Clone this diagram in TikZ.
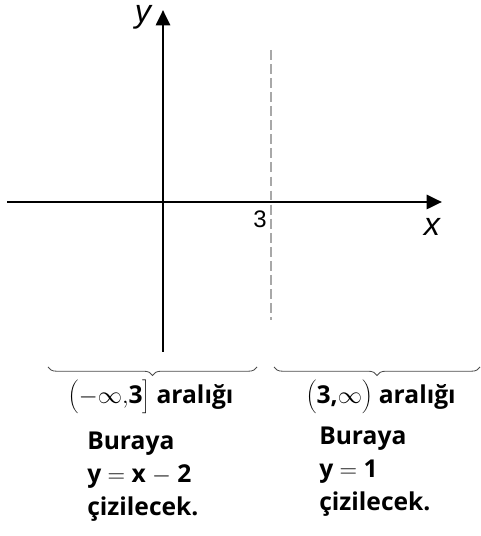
\documentclass[tikz,border=0pt]{standalone}
\usepackage{fontspec}
\setmainfont{Open Sans}
\newfontfamily\axisfont{Liberation Sans}
\usetikzlibrary{arrows.meta,decorations.pathreplacing}
\definecolor{AxisBlack}{HTML}{000000}
\definecolor{DashGray}{HTML}{A8A8A8}
\tikzset{
  axis/.style={AxisBlack, line width=2.1pt, -{Triangle[length=11pt,width=10pt]}},
  axislabel/.style={anchor=base, inner sep=0pt, font=\axisfont\itshape\fontsize{23}{23}\selectfont},
  brace/.style={decorate, decoration={brace, mirror, amplitude=6pt}, line width=0.6pt, black!70},
  interval/.style={font=\fontsize{17.5}{20}\selectfont\bfseries},
  note/.style={align=left, anchor=west, inner sep=0pt, font=\fontsize{17.5}{23.5}\selectfont\bfseries}
}

\begin{document}
\begin{tikzpicture}[x=0.025cm, y=0.025cm]
\useasboundingbox (0,0) rectangle (480,536);

% Axes
\coordinate (xl) at (7,334);
\coordinate (xr) at (442,334);
\coordinate (yb) at (163,184);
\coordinate (yt) at (163,526);
\draw[axis] (xl) -- (xr);
\draw[axis] (yb) -- (yt);
\node[axislabel] (ylab) at (143,513) {y};
\node[axislabel] (xlab) at (432,300) {x};
\node[anchor=base, inner sep=0pt, font=\axisfont\fontsize{17}{17}\selectfont] (three) at (260,308) {3};

% Vertical dashed line at x = 3
\coordinate (dt) at (271,486);
\coordinate (db) at (271,216);
\draw[DashGray, line width=1.5pt, dash pattern=on 7pt off 3pt] (dt) -- (db);

% Braces under the two intervals
\coordinate (la) at (48,169);
\coordinate (lb) at (257,169);
\coordinate (ra) at (274,169);
\coordinate (rb) at (480,169);
\draw[brace] (la) -- (lb);
\draw[brace] (ra) -- (rb);

% Interval labels
\node[interval] (lint) at (151,139) {$\biggl(-\infty,$3$\biggr]$ aralığı};
\node[interval] (rint) at (381,139) {$\biggl($3,$\infty\biggr)$ aralığı};

% What is drawn on each interval
\node[note] (lnote) at (87,59) {Buraya\\y $=$ x $-$ 2\\çizilecek.};
\node[note] (rnote) at (319,64) {Buraya\\y $=$ 1\\çizilecek.};

\end{tikzpicture}
\end{document}
